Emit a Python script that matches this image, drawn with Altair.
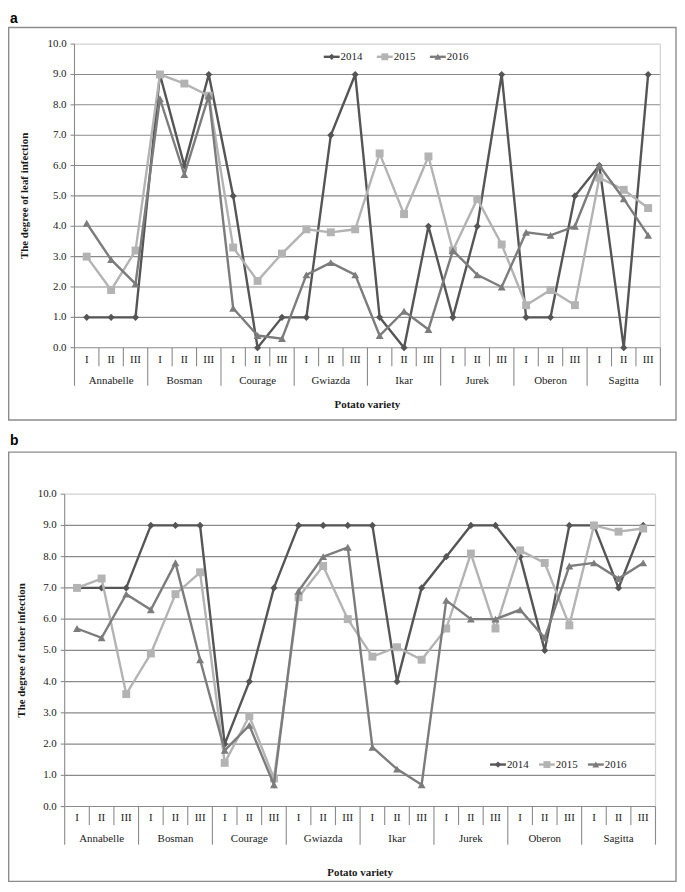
import altair as alt
import pandas as pd

# ---------------- data ----------------
varieties = ["Annabelle", "Bosman", "Courage", "Gwiazda", "Ikar", "Jurek", "Oberon", "Sagitta"]
clones = ["I", "II", "III"]
years = ["2014", "2015", "2016"]

leaf_2014 = [1, 1, 1, 9, 6, 9, 5, 0, 1, 1, 7, 9, 1, 0, 4, 1, 4, 9, 1, 1, 5, 6, 0, 9]
leaf_2015 = [3.0, 1.9, 3.2, 9.0, 8.7, 8.3, 3.3, 2.2, 3.1, 3.9, 3.8, 3.9,
             6.4, 4.4, 6.3, 3.2, 4.9, 3.4, 1.4, 1.9, 1.4, 5.6, 5.2, 4.6]
leaf_2016 = [4.1, 2.9, 2.1, 8.2, 5.7, 8.3, 1.3, 0.4, 0.3, 2.4, 2.8, 2.4,
             0.4, 1.2, 0.6, 3.2, 2.4, 2.0, 3.8, 3.7, 4.0, 6.0, 4.9, 3.7]

tuber_2014 = [7, 7, 7, 9, 9, 9, 2, 4, 7, 9, 9, 9, 9, 4, 7, 8, 9, 9, 8, 5, 9, 9, 7, 9]
tuber_2015 = [7.0, 7.3, 3.6, 4.9, 6.8, 7.5, 1.4, 2.9, 0.9, 6.7, 7.7, 6.0,
              4.8, 5.1, 4.7, 5.7, 8.1, 5.7, 8.2, 7.8, 5.8, 9.0, 8.8, 8.9]
tuber_2016 = [5.7, 5.4, 6.8, 6.3, 7.8, 4.7, 1.8, 2.6, 0.7, 6.9, 8.0, 8.3,
              1.9, 1.2, 0.7, 6.6, 6.0, 6.0, 6.3, 5.4, 7.7, 7.8, 7.3, 7.8]

y_ticks = [0, 1, 2, 3, 4, 5, 6, 7, 8, 9, 10]
y_labels = ["0.0", "1.0", "2.0", "3.0", "4.0", "5.0", "6.0", "7.0", "8.0", "9.0", "10.0"]

# ---------------- style ----------------
SERIF = "Liberation Serif"
SANS = "Liberation Sans"
TXT = "#1a1a1a"
COLORS = {"2014": "#555555", "2015": "#b3b3b3", "2016": "#7c7c7c"}
SHAPES = {"2014": "diamond", "2015": "square", "2016": "triangle-up"}
SIZES = {"2014": 52, "2015": 64, "2016": 64}
GRID = "#8a8a8a"
LIGHT = "#d2d2d2"
BORDER = "#8c8c8c"

W, H = 675, 878

panels = [
    dict(letter="a", lx=2, ly=0.5, bx0=0.7, bx1=674.0, by0=15.8, by1=411.7,
         L=67.1, R=658.2, T=32.5, B=338.8, roman_y=351.6, var_y=372.3,
         short=18.8, long=38.5, xt_y=397.0, yt_x=16.8,
         leg_c=[326.6, 379.4, 433.7], leg_y=45.3,
         ytitle="The degree of leaf infection",
         series={"2014": leaf_2014, "2015": leaf_2015, "2016": leaf_2016}),
    dict(letter="b", lx=2, ly=425.5, bx0=0.7, bx1=674.0, by0=444.2, by1=877.3,
         L=57.2, R=653.3, T=486.6, B=801.8, roman_y=813.6, var_y=834.3,
         short=18.7, long=38.4, xt_y=868.8, yt_x=13.8,
         leg_c=[494.4, 543.7, 593.1], leg_y=759.4,
         ytitle="The degree of tuber infection",
         series={"2014": tuber_2014, "2015": tuber_2015, "2016": tuber_2016}),
]

one = pd.DataFrame({"d": [0]})


def panel_layers(P):
    xs = alt.Scale(domain=[0, 24], range=[P["L"], P["R"]], nice=False, zero=False)
    ys = alt.Scale(domain=[0, 10], range=[P["B"], P["T"]], nice=False, zero=False)
    L, R, T, B = P["L"], P["R"], P["T"], P["B"]
    layers = []

    # outer border of panel
    layers.append(alt.Chart(one).mark_rect(fillOpacity=0, stroke=BORDER, strokeWidth=1.4).encode(
        x=alt.value(P["bx0"]), x2=alt.value(P["bx1"]), y=alt.value(P["by0"]), y2=alt.value(P["by1"])))
    # panel letter
    layers.append(alt.Chart(one).mark_text(text=P["letter"], font=SANS, fontWeight="bold", fontSize=14,
                                            align="left", baseline="top", color="#000").encode(
        x=alt.value(P["lx"]), y=alt.value(P["ly"])))

    grid_df = pd.DataFrame({"v": y_ticks, "lab": y_labels})
    mid = grid_df[(grid_df.v > 0) & (grid_df.v < 10)]
    top = grid_df[grid_df.v == 10]
    zero = grid_df[grid_df.v == 0]

    layers.append(alt.Chart(mid).mark_rule(color=GRID, strokeWidth=1.1).encode(
        y=alt.Y("v:Q", scale=ys, axis=None), x=alt.value(L), x2=alt.value(R)))
    layers.append(alt.Chart(top).mark_rule(color=LIGHT, strokeWidth=1.2).encode(
        y=alt.Y("v:Q", scale=ys, axis=None), x=alt.value(L), x2=alt.value(R)))
    layers.append(alt.Chart(one).mark_rule(color=LIGHT, strokeWidth=1.2).encode(
        x=alt.value(R), y=alt.value(T), y2=alt.value(B)))
    layers.append(alt.Chart(zero).mark_rule(color=GRID, strokeWidth=1.1).encode(
        y=alt.Y("v:Q", scale=ys, axis=None), x=alt.value(L), x2=alt.value(R)))
    # y axis line, ticks, labels
    layers.append(alt.Chart(one).mark_rule(color=GRID, strokeWidth=1.1).encode(
        x=alt.value(L), y=alt.value(T), y2=alt.value(B)))
    layers.append(alt.Chart(grid_df).mark_rule(color=GRID, strokeWidth=1.1).encode(
        y=alt.Y("v:Q", scale=ys, axis=None), x=alt.value(L - 4), x2=alt.value(L)))
    layers.append(alt.Chart(grid_df).mark_text(font=SERIF, fontSize=11, align="right", baseline="middle",
                                                color=TXT).encode(
        y=alt.Y("v:Q", scale=ys, axis=None), x=alt.value(L - 8), text="lab:N"))

    # category dividers
    bounds = pd.DataFrame({"b": list(range(25))})
    short_b = bounds[bounds.b % 3 != 0]
    long_b = bounds[bounds.b % 3 == 0]
    layers.append(alt.Chart(short_b).mark_rule(color=GRID, strokeWidth=1.1).encode(
        x=alt.X("b:Q", scale=xs, axis=None), y=alt.value(B), y2=alt.value(B + P["short"])))
    layers.append(alt.Chart(long_b).mark_rule(color=GRID, strokeWidth=1.1).encode(
        x=alt.X("b:Q", scale=xs, axis=None), y=alt.value(B), y2=alt.value(B + P["long"])))

    roman = pd.DataFrame({"pos": [i + 0.5 for i in range(24)], "lab": clones * 8})
    layers.append(alt.Chart(roman).mark_text(font=SERIF, fontSize=11, baseline="middle", color=TXT).encode(
        x=alt.X("pos:Q", scale=xs, axis=None), y=alt.value(P["roman_y"]), text="lab:N"))
    var_df = pd.DataFrame({"pos": [3 * k + 1.5 for k in range(8)], "lab": varieties})
    layers.append(alt.Chart(var_df).mark_text(font=SERIF, fontSize=11, baseline="middle", color=TXT).encode(
        x=alt.X("pos:Q", scale=xs, axis=None), y=alt.value(P["var_y"]), text="lab:N"))

    # axis titles
    layers.append(alt.Chart(one).mark_text(text="Potato variety", font=SERIF, fontSize=11, fontWeight="bold",
                                            baseline="middle", color=TXT).encode(
        x=alt.value((L + R) / 2), y=alt.value(P["xt_y"])))
    layers.append(alt.Chart(one).mark_text(text=P["ytitle"], font=SERIF, fontSize=11, fontWeight="bold",
                                            baseline="middle", angle=270, color=TXT).encode(
        x=alt.value(P["yt_x"]), y=alt.value((T + B) / 2)))

    # series
    for yr in years:
        df = pd.DataFrame({"pos": [i + 0.5 for i in range(24)], "val": P["series"][yr]})
        layers.append(alt.Chart(df).mark_line(color=COLORS[yr], strokeWidth=2.4).encode(
            x=alt.X("pos:Q", scale=xs, axis=None), y=alt.Y("val:Q", scale=ys, axis=None)))
        layers.append(alt.Chart(df).mark_point(filled=True, opacity=1, color=COLORS[yr], shape=SHAPES[yr],
                                               size=SIZES[yr]).encode(
            x=alt.X("pos:Q", scale=xs, axis=None), y=alt.Y("val:Q", scale=ys, axis=None)))

    # custom legend
    ls = alt.Scale(domain=[0, 2], range=[P["leg_c"][0], P["leg_c"][2]], nice=False, zero=False)
    for k, yr in enumerate(years):
        ld = pd.DataFrame({"k": [k], "lab": [yr]})
        layers.append(alt.Chart(ld).mark_rule(color=COLORS[yr], strokeWidth=2.4, xOffset=-8, x2Offset=8).encode(
            x=alt.X("k:Q", scale=ls, axis=None), x2="k:Q", y=alt.value(P["leg_y"])))
        layers.append(alt.Chart(ld).mark_point(filled=True, opacity=1, color=COLORS[yr], shape=SHAPES[yr],
                                               size=SIZES[yr] * 0.75).encode(
            x=alt.X("k:Q", scale=ls, axis=None), y=alt.value(P["leg_y"])))
        layers.append(alt.Chart(ld).mark_text(font=SERIF, fontSize=11, align="left", baseline="middle",
                                              dx=9, color=TXT).encode(
            x=alt.X("k:Q", scale=ls, axis=None), y=alt.value(P["leg_y"]), text="lab:N"))
    return layers


all_layers = []
for P in panels:
    all_layers += panel_layers(P)

chart = alt.layer(*all_layers).resolve_scale(x="independent", y="independent").properties(
    width=W, height=H, padding=0, autosize=alt.AutoSizeParams(type="none")
).configure_view(stroke=None)

chart.save("out.html", embed_options={"renderer": "svg", "actions": False})
